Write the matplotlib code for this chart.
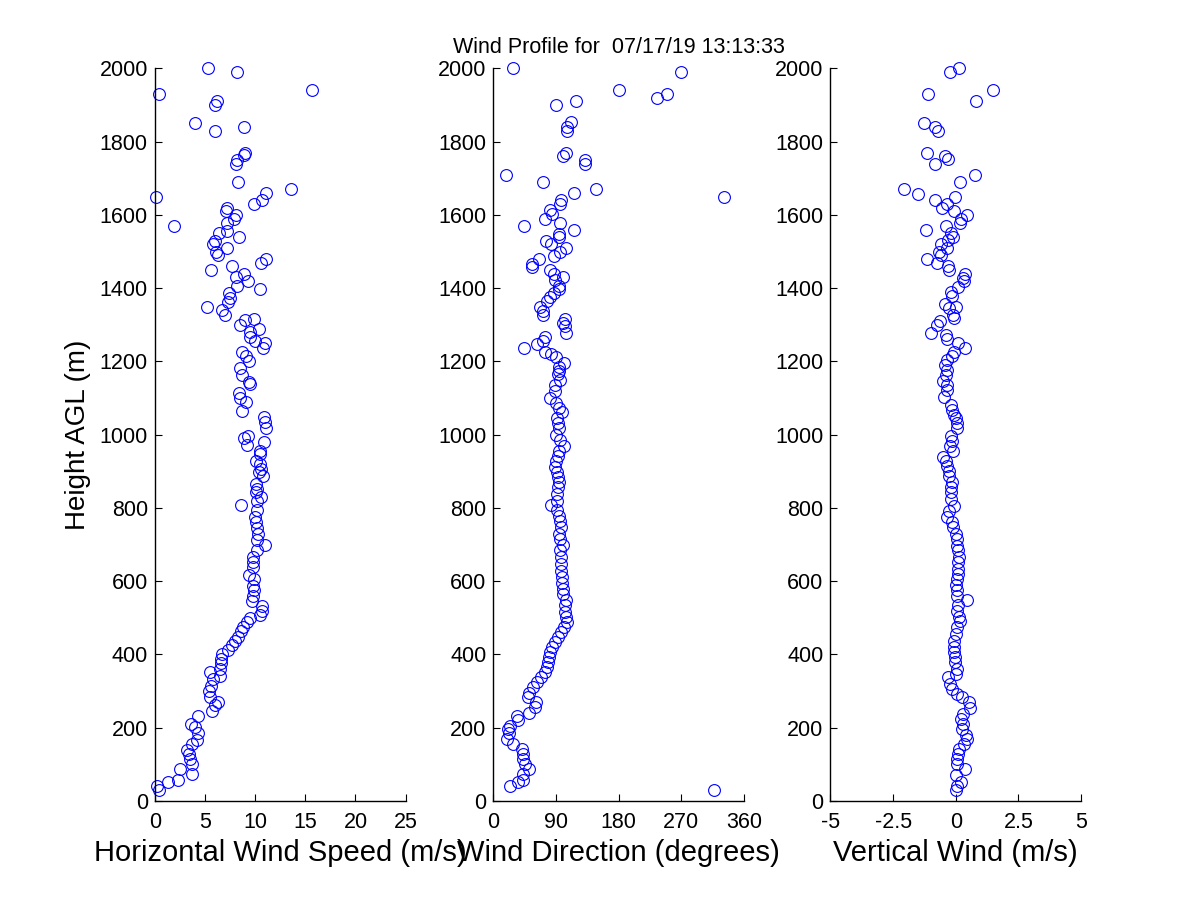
import matplotlib
matplotlib.use('Agg')
import matplotlib.pyplot as plt

plt.rcParams['font.family'] = ['Liberation Sans', 'DejaVu Sans']

# horizontal wind speed (m/s) vs height (m)
speed_h = [2000, 1991, 1931, 1942, 1912, 1901, 1851, 1829, 1840, 1770,
           1763, 1750, 1739, 1690, 1649, 1670, 1660, 1640, 1629, 1620,
           1611, 1599, 1588, 1578, 1570, 1556, 1551, 1540, 1529, 1521,
           1510, 1499, 1490, 1479, 1469, 1449, 1460, 1439, 1430, 1419,
           1407, 1399, 1386, 1372, 1361, 1348, 1341, 1328, 1317, 1313,
           1299, 1288, 1280, 1266, 1257, 1249, 1238, 1227, 1216, 1202,
           1182, 1163, 1145, 1138, 1113, 1100, 1090, 1065, 1047, 1036,
           1017,
           997, 990, 973, 979, 955, 947, 929, 920, 906, 897,
           888, 865, 852, 843, 831, 820, 809, 795, 775, 761,
           745, 729, 713, 699, 684, 667, 652, 638, 618, 606,
           588, 575, 561, 547, 531, 520, 509, 500, 488, 475,
           464, 449, 438, 427, 413, 402, 388, 376, 361, 340,
           352, 334, 315, 300, 285, 270, 261, 247, 231, 209,
           202, 185, 167, 156, 140, 129, 115, 102, 88, 75,
           58, 52, 40, 29]
speed = [5.33, 8.2, 0.43, 15.7, 6.23, 6.03, 4.0, 6.03, 8.9, 8.97,
         8.87, 8.23, 8.07, 8.3, 0.1, 13.6, 11.13, 10.73, 9.93, 7.17,
         7.1, 8.1, 7.87, 7.23, 1.93, 7.23, 6.37, 8.43, 6.03, 5.77,
         7.23, 6.07, 6.33, 11.1, 10.63, 5.6, 7.73, 8.87, 8.13, 9.33,
         8.2, 10.53, 7.37, 7.5, 7.3, 5.23, 6.67, 7.03, 9.93, 9.03,
         8.5, 10.4, 9.5, 9.5, 10.0, 11.03, 10.8, 8.73, 9.1, 9.37,
         8.53, 8.67, 9.4, 9.47, 8.4, 8.5, 9.1, 8.73, 10.9, 10.97,
         11.1,
         9.33, 8.93, 9.17, 10.93, 10.53, 10.53, 10.07, 10.47, 10.6, 10.4,
         10.8, 10.07, 10.23, 10.13, 10.63, 10.2, 8.57, 10.17, 10.0, 10.1,
         10.2, 10.33, 10.23, 11.0, 10.17, 9.83, 9.83, 9.77, 9.43, 9.9,
         9.77, 9.9, 9.83, 9.67, 10.73, 10.67, 10.5, 9.5, 9.17, 8.83,
         8.57, 8.33, 8.0, 7.73, 7.33, 6.73, 6.6, 6.57, 6.53, 6.47,
         5.5, 5.83, 5.6, 5.4, 5.5, 6.33, 6.0, 5.67, 4.33, 3.6,
         4.0, 4.33, 4.17, 3.73, 3.17, 3.4, 3.5, 3.67, 2.5, 3.67,
         2.33, 1.27, 0.17, 0.4]

# wind direction (degrees) vs height (m)
dir_h = [2000, 1991, 1942, 1931, 1920, 1910, 1900, 1853, 1841, 1828,
         1770, 1761, 1751, 1739, 1709, 1690, 1670, 1649, 1659, 1640,
         1629, 1613, 1602, 1588, 1579, 1570, 1558, 1549, 1540, 1529,
         1520, 1509, 1498, 1489, 1479, 1467, 1459, 1449, 1439, 1430,
         1421, 1407, 1399, 1387, 1375, 1366, 1348, 1337, 1326, 1316,
         1305, 1296, 1279, 1238, 1247, 1266, 1255, 1227, 1220, 1211,
         1197, 1186, 1174, 1165, 1150, 1136, 1120, 1100, 1086, 1072,
         1063, 1045, 1031, 1019,
         1000, 985, 970, 956, 943, 927, 911, 897, 885, 870,
         856, 838, 820, 809, 795, 779, 765, 749, 729, 715,
         700, 684, 665, 647, 629, 611, 595, 579, 565, 549,
         534, 515, 502, 488, 475, 461, 447, 434, 420, 406,
         393, 379, 365, 352, 338, 325, 311, 295, 284, 270,
         256, 240, 232, 220, 206, 197, 185, 170, 155, 143,
         129, 115, 102, 88, 75, 58, 52, 40, 29]
direction = [28.7, 270, 181, 250, 235.5, 118.7, 90.5, 112, 106, 106,
             104, 100.5, 132, 132, 18.7, 71.8, 148, 331.7, 116, 98,
             95.7, 81.9, 83.8, 74.7, 95.7, 44, 116, 94.8, 94.8, 75.6,
             82.8, 104.4, 95.7, 87, 66, 55, 55, 81.4, 87, 99.6,
             88.6, 94.8, 94.8, 87, 81.4, 76.6, 67, 70.8, 71.8, 103,
             99.6, 103, 104.4, 44.5, 62.2, 74.2, 71.8, 74.2, 82.3, 90,
             102, 94.8, 94, 92.4, 95.7, 88.6, 88.6, 81.4, 90, 94.8,
             98.6, 91.9, 93.3, 94.8,
             90, 95.7, 101.5, 94.8, 93.3, 90, 88.6, 91, 92.4, 93.8,
             93.3, 92, 91, 82.8, 92, 94.8, 95.7, 97.2, 94.8, 95.7,
             99.6, 95.7, 96.7, 97.7, 97.2, 98.2, 98.6, 99.6, 100.5, 104.4,
             103, 103.4, 103.9, 105.3, 102, 97.2, 93.3, 88.6, 83.8, 81.4,
             80.4, 79, 76.6, 74.2, 68.5, 62.2, 57.4, 51.7, 50.3, 61.3,
             59.8, 51.7, 33.5, 34.9, 23.9, 21.5, 23, 20.1, 27.8, 40.7,
             42.1, 43, 45.5, 51.7, 43, 42.1, 35.9, 23.9, 317]

# vertical wind (m/s) vs height (m)
w_h = [2000, 1991, 1942, 1931, 1911, 1851, 1841, 1829, 1770, 1762,
       1752, 1739, 1709, 1690, 1670, 1658, 1649, 1640, 1629, 1620,
       1611, 1600, 1588, 1579, 1558, 1570, 1552, 1540, 1531, 1521,
       1510, 1499, 1490, 1479, 1468, 1460, 1449, 1439, 1428, 1419,
       1403, 1390, 1378, 1358, 1346, 1348, 1328, 1319, 1311, 1299,
       1279, 1273, 1262, 1250, 1238, 1227, 1216, 1205, 1191, 1177,
       1163, 1147, 1136, 1122, 1104, 1081, 1068, 1054, 1045, 1031,
       1017,
       997, 984, 970, 955, 940, 929, 915, 902, 888, 870,
       856, 843, 825, 804, 793, 776, 761, 747, 729, 715,
       697, 684, 665, 652, 634, 620, 606, 591, 575, 561,
       549, 534, 520, 502, 491, 475, 456, 438, 420, 406,
       393, 379, 361, 347, 338, 320, 306, 293, 284, 270,
       255, 238, 225, 211, 197, 179, 170, 156, 143, 129,
       115, 102, 88, 70, 52, 40, 29]
w = [0.12, -0.25, 1.48, -1.1, 0.8, -1.28, -0.82, -0.72, -1.14, -0.44,
     -0.31, -0.82, 0.76, 0.16, -2.05, -1.5, -0.04, -0.82, -0.35, -0.55,
     -0.08, 0.43, 0.19, 0.16, -1.2, -0.4, -0.21, -0.11, -0.31, -0.61,
     -0.37, -0.66, -0.59, -1.14, -0.75, -0.31, -0.28, 0.35, 0.29, 0.32,
     0.08, -0.21, -0.17, -0.45, -0.28, -0.01, -0.11, -0.08, -0.64, -0.75,
     -0.98, -0.41, -0.37, 0.08, 0.35, -0.08, -0.15, -0.35, -0.45, -0.37,
     -0.41, -0.51, -0.35, -0.37, -0.48, -0.19, -0.15, -0.08, -0.01, 0.05,
     0.05,
     -0.21, -0.15, -0.24, -0.11, -0.51, -0.41, -0.35, -0.28, -0.28, -0.15,
     -0.19, -0.21, -0.21, -0.08, -0.28, -0.35, -0.15, -0.11, -0.01, 0.05,
     0.05, 0.08, 0.12, 0.08, 0.08, 0.09, 0.05, -0.01, 0.03, 0.05,
     0.43, 0.08, 0.05, 0.12, 0.16, 0.03, -0.01, -0.08, -0.08, -0.08,
     -0.05, -0.04, 0.05, -0.01, -0.31, -0.24, -0.15, 0.05, 0.25, 0.52,
     0.56, 0.29, 0.21, 0.29, 0.25, 0.39, 0.43, 0.32, 0.12, 0.08,
     0.05, 0.03, 0.35, -0.01, 0.19, 0.03, -0.01]

title = 'Wind Profile for  07/17/19 13:13:33'
height_ticks = list(range(0, 2001, 200))

fig = plt.figure(figsize=(12, 9), dpi=100)
lefts = [0.129, 0.411, 0.692]
axes = [fig.add_axes([l, 0.11, 0.209, 0.814]) for l in lefts]

panels = [
    (speed, speed_h, (0, 25), [0, 5, 10, 15, 20, 25], ['0', '5', '10', '15', '20', '25'],
     'Horizontal Wind Speed (m/s)'),
    (direction, dir_h, (0, 360), [0, 90, 180, 270, 360], ['0', '90', '180', '270', '360'],
     'Wind Direction (degrees)'),
    (w, w_h, (-5, 5), [-5, -2.5, 0, 2.5, 5], ['-5', '-2.5', '0', '2.5', '5'],
     'Vertical Wind (m/s)'),
]

for ax, (x, y, xlim, xt, xtl, xlab) in zip(axes, panels):
    ax.plot(x, y, 'o', mfc='none', mec='#0000ff', ms=8.5, mew=0.8, clip_on=False)
    ax.set_xlim(*xlim)
    ax.set_ylim(0, 2000)
    ax.set_xticks(xt)
    ax.set_xticklabels(xtl)
    ax.set_yticks(height_ticks)
    ax.spines['top'].set_visible(False)
    ax.spines['right'].set_visible(False)
    for s in ['left', 'bottom']:
        ax.spines[s].set_linewidth(1.0)
    ax.tick_params(direction='in', length=5, width=0.8, labelsize=15.5)
    ax.tick_params(axis='y', pad=5)
    ax.tick_params(axis='x', pad=8)
    ax.set_xlabel(xlab, fontsize=21, labelpad=4)

axes[0].set_ylabel('Height AGL (m)', fontsize=20, labelpad=6)
axes[1].set_title(title, fontsize=15.5, pad=11)

fig.savefig('out.png', dpi=100)
